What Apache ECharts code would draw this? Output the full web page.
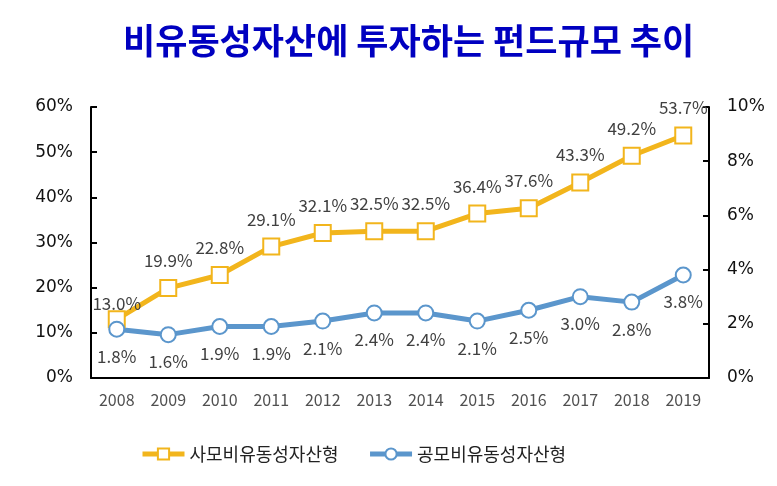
<!DOCTYPE html>
<html><head><meta charset="utf-8">
<script src="https://cdn.jsdelivr.net/npm/echarts@6/dist/echarts.min.js"></script>
<style>html,body{margin:0;padding:0;background:#fff}#c{width:777px;height:486px}</style>
</head><body><div id="c"></div>
<script>
const years = ['2008','2009','2010','2011','2012','2013','2014','2015','2016','2017','2018','2019'];
const privateFund = [13.0,19.9,22.8,29.1,32.1,32.5,32.5,36.4,37.6,43.3,49.2,53.7];
const publicFund = [1.8,1.6,1.9,1.9,2.1,2.4,2.4,2.1,2.5,3.0,2.8,3.8];
const seriesNames = ['사모비유동성자산형','공모비유동성자산형'];
const titleText = '비유동성자산에 투자하는 펀드규모 추이';
const FONT = '"Noto Sans CJK KR", "Noto Sans", sans-serif';
const AXFONT = '"DejaVu Sans", sans-serif';
const chart = echarts.init(document.getElementById('c'), null, {renderer:'canvas'});
const privData = privateFund.map((v,i)=> i===0 ? {value:v,label:{distance:-2}} : v);
chart.setOption({
  animation:false,
  textStyle:{fontFamily:FONT},
  title:{text:titleText,left:118,top:18,textStyle:{color:'#0000C0',fontSize:35,fontWeight:'bold',fontFamily:FONT}},
  grid:{left:91,right:68,top:107,bottom:108},
  legend:{bottom:18,left:135,itemWidth:42,itemHeight:14,itemGap:29,
    lineStyle:{width:5},
    textStyle:{fontSize:18,color:'#222',fontFamily:FONT},data:seriesNames},
  xAxis:{type:'category',data:years,boundaryGap:true,
    axisLine:{lineStyle:{color:'#000',width:2}},
    axisTick:{inside:true,length:6,lineStyle:{color:'#000',width:2}},
    axisLabel:{fontSize:16,color:'#505050',margin:14,fontFamily:FONT}},
  yAxis:[
    {type:'value',min:0,max:60,interval:10,position:'left',
     axisLine:{show:true,lineStyle:{color:'#000',width:2}},
     axisTick:{show:true,inside:true,length:6,lineStyle:{color:'#000',width:2}},
     splitLine:{show:false},
     axisLabel:{formatter:'{value}%',fontSize:17,color:'#111',margin:18,fontFamily:AXFONT}},
    {type:'value',min:0,max:10,interval:2,position:'right',
     axisLine:{show:true,lineStyle:{color:'#000',width:2}},
     axisTick:{show:true,inside:true,length:6,lineStyle:{color:'#000',width:2}},
     splitLine:{show:false},
     axisLabel:{formatter:'{value}%',fontSize:17,color:'#111',margin:18,fontFamily:AXFONT}}
  ],
  series:[
    {name:seriesNames[0],type:'line',yAxisIndex:0,data:privData,
     symbol:'rect',symbolSize:16,
     lineStyle:{color:'#F2B51C',width:5},
     itemStyle:{color:'#fff',borderColor:'#F2B51C',borderWidth:2},
     label:{show:true,position:'top',distance:10,formatter:p=>p.value.toFixed(1)+'%',
       fontSize:17,color:'#404040',fontFamily:FONT}},
    {name:seriesNames[1],type:'line',yAxisIndex:1,data:publicFund,
     symbol:'circle',symbolSize:15,
     lineStyle:{color:'#5B96CC',width:5},
     itemStyle:{color:'#fff',borderColor:'#5B96CC',borderWidth:2},
     label:{show:true,position:'bottom',distance:10,formatter:p=>p.value.toFixed(1)+'%',
       fontSize:17,color:'#404040',fontFamily:FONT}}
  ]
});
</script></body></html>
